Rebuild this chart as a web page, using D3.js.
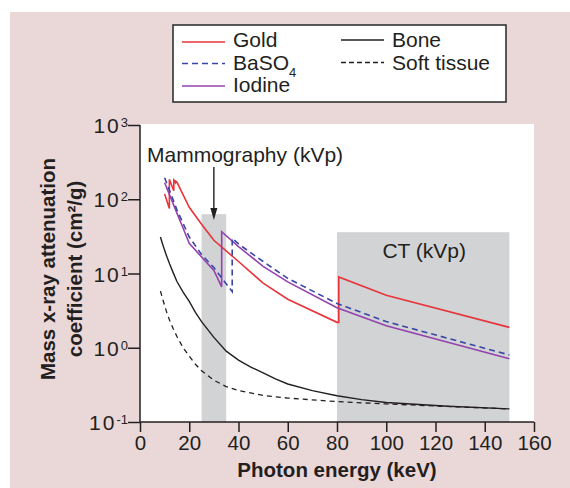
<!DOCTYPE html>
<html>
<head>
<meta charset="utf-8">
<script src="https://cdn.jsdelivr.net/npm/d3@7"></script>
<style>
html,body{margin:0;padding:0;background:#fff;}
svg{display:block;}
text{font-family:"Liberation Sans",Arial,Helvetica,sans-serif;fill:#231f20;}
</style>
</head>
<body>
<svg id="chart" width="570" height="488"></svg>
<script>
// ---- data (photon energy keV, mass attenuation cm^2/g) ----
const goldData = [[10,118],[11.92,75],[11.92,185],[13.73,130],[13.73,180],[14.35,168],[14.35,176],[15,170],[20,78],[25,46],[30,28],[40,14.5],[50,7.4],[60,4.5],[80,2.2],[80.72,2.2],[80.72,9.0],[100,5.1],[150,1.88]];
const baso4Data = [[10,195],[15,72],[20,31],[25,18],[30,12],[37.44,5.7],[37.44,29.8],[40,25],[50,14.5],[60,8.6],[80,3.95],[100,2.25],[150,0.8]];
const iodineData = [[10,167],[15,65],[17.6,40],[20,25.5],[25,16.7],[30,11],[33.17,6.6],[33.17,36.5],[40,23],[50,12.5],[60,7.7],[80,3.45],[100,1.98],[150,0.71]];
const boneData = [[8.3,31],[9,26],[10,20.5],[11,16.5],[12,13.5],[13.5,10.2],[15,7.8],[17.5,5.6],[20,4.2],[22.5,3.0],[25,2.25],[30,1.38],[35,0.9],[40,0.68],[45,0.55],[50,0.46],[55,0.38],[60,0.325],[70,0.265],[80,0.226],[90,0.2],[100,0.183],[125,0.163],[150,0.15]];
const softData = [[8.3,5.8],[9,4.8],[10,3.7],[11,2.9],[12,2.35],[13.5,1.8],[15,1.42],[17.5,1.0],[20,0.77],[22.5,0.6],[25,0.49],[30,0.365],[35,0.3],[40,0.265],[50,0.228],[60,0.21],[80,0.188],[100,0.175],[150,0.15]];
const xTicks = [0,20,40,60,80,100,120,140,160];
const yTickExps = [-1,0,1,2,3];
const mammoRange = [25,35,63];   // keV from, keV to, top value
const ctRange = [80,150,36];
const arrowE = 30;
const seriesNames = ["Gold","BaSO","Iodine","Bone","Soft tissue"];

// ---- layout ----
const svg = d3.select("#chart");
const x = d3.scaleLinear().domain([0,160]).range([140,534]);
const y = d3.scaleLog().domain([0.1,1000]).range([422,125]);

const ink = "#231f20";
const styles = {
  gold:{color:"#e8343b",dash:null,w:1.6},
  baso4:{color:"#3a46a6",dash:"6,4",w:1.6},
  iodine:{color:"#9442ad",dash:null,w:1.6},
  bone:{color:ink,dash:null,w:1.4},
  soft:{color:ink,dash:"5,4",w:1.3}
};

// background
svg.append("rect").attr("x",10).attr("y",12).attr("width",560).attr("height",476).attr("fill","#ead7d7");
// plot area
svg.append("rect").attr("x",x(0)).attr("y",y(1000)-1).attr("width",x(160)-x(0)).attr("height",y(0.1)-y(1000)+1).attr("fill","#fff");

// shaded bands
[mammoRange,ctRange].forEach(r=>{
  svg.append("rect").attr("x",x(r[0])).attr("y",y(r[2])).attr("width",x(r[1])-x(r[0])).attr("height",y(0.1)-y(r[2])).attr("fill","#d1d3d4");
});

// curves
const line = d3.line().x(d=>x(d[0])).y(d=>y(d[1]));
function drawSeries(data,st){
  svg.append("path").datum(data).attr("d",line).attr("fill","none")
    .attr("stroke",st.color).attr("stroke-width",st.w).attr("stroke-dasharray",st.dash)
    .attr("stroke-linejoin","miter");
}
drawSeries(softData,styles.soft);
drawSeries(boneData,styles.bone);
drawSeries(goldData,styles.gold);
drawSeries(iodineData,styles.iodine);
drawSeries(baso4Data,styles.baso4);

// axes
const xAxis = svg.append("g").attr("transform",`translate(0,${y(0.1)})`)
  .call(d3.axisBottom(x).tickValues(xTicks).tickSize(10).tickPadding(3));
xAxis.select(".domain").attr("stroke",ink).attr("stroke-width",1.5).attr("d",`M${x(0)},0H${x(160)}`);
xAxis.selectAll(".tick line").attr("stroke",ink).attr("stroke-width",1.5);
xAxis.selectAll(".tick text").attr("font-size",20.5).attr("fill",ink).attr("font-family","Liberation Sans, Arial, sans-serif");

const yAxis = svg.append("g").attr("transform",`translate(${x(0)},0)`)
  .call(d3.axisLeft(y).tickValues(yTickExps.map(e=>Math.pow(10,e))).tickSize(12).tickFormat(""));
yAxis.select(".domain").attr("stroke",ink).attr("stroke-width",1.5).attr("d",`M0,${y(1000)}V${y(0.1)}`);
yAxis.selectAll(".tick line").attr("stroke",ink).attr("stroke-width",1.5);
yAxis.selectAll(".tick").each(function(d){
  const e = Math.round(Math.log10(d));
  const t = d3.select(this).append("text").attr("x",-12).attr("y",0).attr("dy","0.36em")
    .attr("text-anchor","end").attr("font-size",21).attr("fill",ink).attr("stroke","none");
  t.append("tspan").text("10").attr("letter-spacing","2px");
  t.append("tspan").text(e<0?"-"+Math.abs(e):String(e)).attr("font-size",13).attr("dy","-0.45em");
});

// axis titles
svg.append("text").attr("x",(x(0)+x(160))/2).attr("y",477).attr("text-anchor","middle")
  .attr("font-size",20.5).attr("font-weight","bold").text("Photon energy (keV)");
svg.append("text").attr("transform","translate(55,269) rotate(-90)").attr("text-anchor","middle")
  .attr("font-size",20.5).attr("font-weight","bold").text("Mass x-ray attenuation");
svg.append("text").attr("transform","translate(82,269) rotate(-90)").attr("text-anchor","middle")
  .attr("font-size",20.5).attr("font-weight","bold").text("coefficient (cm²/g)");

// annotations
svg.append("text").attr("x",147).attr("y",162).attr("font-size",21).text("Mammography (kVp)");
svg.append("line").attr("x1",x(arrowE)).attr("x2",x(arrowE)).attr("y1",167).attr("y2",210)
  .attr("stroke",ink).attr("stroke-width",1.4);
svg.append("path").attr("d",`M${x(arrowE)-3.5},${208}L${x(arrowE)+3.5},${208}L${x(arrowE)},${220}Z`).attr("fill",ink);
svg.append("text").attr("x",(x(80)+x(150))/2+1).attr("y",258).attr("text-anchor","middle").attr("font-size",21).text("CT (kVp)");

// legend
const lg = svg.append("g");
lg.append("rect").attr("x",173).attr("y",25).attr("width",333).attr("height",77).attr("fill","#fff")
  .attr("stroke","#333").attr("stroke-width",1.6);
const legendItems = [
  {name:seriesNames[0],st:styles.gold,lx:182,ly:42,tx:233,ty:47,dash:null},
  {name:seriesNames[1],st:styles.baso4,lx:182,ly:63.5,tx:233,ty:70,dash:"6,4",sub:"4"},
  {name:seriesNames[2],st:styles.iodine,lx:182,ly:86,tx:233,ty:92,dash:null},
  {name:seriesNames[3],st:styles.bone,lx:341,ly:40,tx:392,ty:47,dash:null},
  {name:seriesNames[4],st:styles.soft,lx:341,ly:62.5,tx:392,ty:70,dash:"5,3"}
];
legendItems.forEach(it=>{
  lg.append("line").attr("x1",it.lx).attr("x2",it.lx+43).attr("y1",it.ly).attr("y2",it.ly)
    .attr("stroke",it.st.color).attr("stroke-width",it.st.w).attr("stroke-dasharray",it.dash);
  const t = lg.append("text").attr("x",it.tx).attr("y",it.ty).attr("font-size",21);
  t.append("tspan").text(it.name);
  if(it.sub) t.append("tspan").text(it.sub).attr("font-size",13).attr("dy",7);
});
</script>
</body>
</html>
